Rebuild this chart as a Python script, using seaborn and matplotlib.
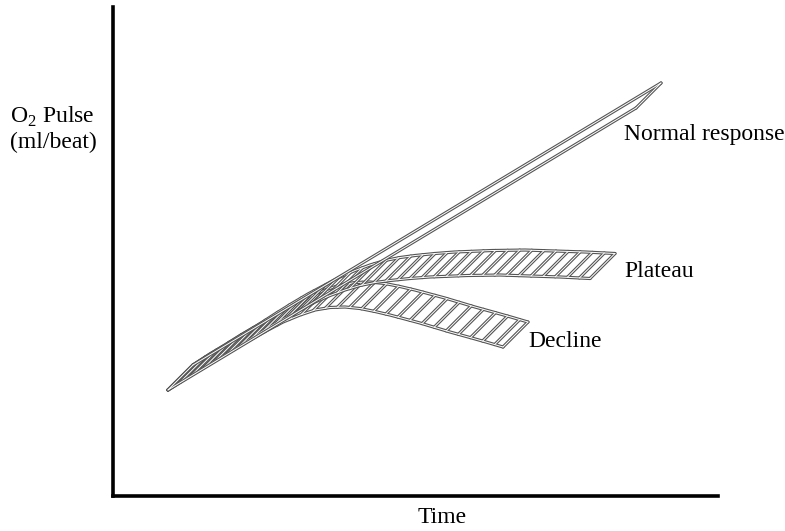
import numpy as np
import pandas as pd
import matplotlib
matplotlib.use("Agg")
import matplotlib.pyplot as plt
import seaborn as sns

# ---- data (time 0-100, O2 pulse 0-100, front edge of each ribbon) ----
normal_t = [9.09, 86.45]
normal_y = [21.68, 79.35]

plateau_t = [9.09, 11.90, 14.38, 17.02, 19.83, 22.64, 25.29, 28.10, 30.91, 33.39, 35.87,
             38.35, 40.83, 43.31, 45.79, 49.09, 52.40, 58.51, 63.97, 68.93, 73.88, 78.84]
plateau_y = [21.68, 23.93, 25.77, 27.81, 29.86, 32.11, 34.15, 36.20, 38.04, 39.67, 41.00,
             42.13, 43.05, 43.66, 44.07, 44.48, 44.79, 45.09, 45.19, 44.99, 44.79, 44.48]

decline_t = [9.09, 11.90, 14.38, 17.02, 19.83, 22.64, 25.29, 28.10, 30.91, 33.39, 35.87,
             38.35, 40.83, 43.31, 45.79, 48.26, 50.74, 53.22, 55.70, 59.01, 61.65, 64.46]
decline_y = [21.68, 23.93, 25.77, 27.81, 29.86, 31.90, 33.74, 35.58, 37.01, 38.04, 38.55,
             38.65, 38.34, 37.73, 37.01, 36.20, 35.38, 34.46, 33.54, 32.41, 31.49, 30.47]

labels = ["Normal response", "Plateau", "Decline"]

# depth offset of the ribbon's back edge (pseudo-3D)
DT, DY = 4.13, 5.11
HATCH_STEP = 2.0

sns.set_style("white")
plt.rcParams["font.family"] = ["Liberation Serif", "DejaVu Serif"]
plt.rcParams["mathtext.fontset"] = "custom"
plt.rcParams["mathtext.rm"] = "Liberation Serif"
plt.rcParams["text.color"] = "black"

fig = plt.figure(figsize=(7.85, 5.31), dpi=100)
ax = fig.add_axes([113 / 785, 35 / 531, 605 / 785, 489 / 531])
ax.set_xlim(0, 100)
ax.set_ylim(0, 100)


def ribbon_segments(t, y, hatch, name):
    t = np.asarray(t, float)
    y = np.asarray(y, float)
    rows = []
    for i in range(len(t)):
        rows.append((f"{name}_front", i, t[i], y[i]))
        rows.append((f"{name}_back", i, t[i] + DT, y[i] + DY))
    rows.append((f"{name}_cap0", 0, t[0], y[0]))
    rows.append((f"{name}_cap0", 1, t[0] + DT, y[0] + DY))
    rows.append((f"{name}_cap1", 0, t[-1], y[-1]))
    rows.append((f"{name}_cap1", 1, t[-1] + DT, y[-1] + DY))
    if hatch:
        ht = np.arange(t[0] + HATCH_STEP, t[-1], HATCH_STEP)
        hy = np.interp(ht, t, y)
        for k, (a, b) in enumerate(zip(ht, hy)):
            rows.append((f"{name}_h{k}", 0, a, b))
            rows.append((f"{name}_h{k}", 1, a + DT, b + DY))
    return pd.DataFrame(rows, columns=["seg", "order", "t", "y"])


def draw_tube(df):
    df = df.sort_values(["seg", "order"])
    sns.lineplot(data=df, x="t", y="y", units="seg", estimator=None, sort=False,
                 color="#555555", lw=2.3, ax=ax, legend=False)
    sns.lineplot(data=df, x="t", y="y", units="seg", estimator=None, sort=False,
                 color="white", lw=0.7, ax=ax, legend=False)


draw_tube(ribbon_segments(decline_t, decline_y, True, "dec"))
draw_tube(ribbon_segments(plateau_t, plateau_y, True, "pla"))
draw_tube(ribbon_segments(normal_t, normal_y, False, "nor"))

ax.set_xlabel("")
ax.set_ylabel("")
ax.set_xticks([])
ax.set_yticks([])
for s in ["top", "right"]:
    ax.spines[s].set_visible(False)
for s in ["left", "bottom"]:
    ax.spines[s].set_linewidth(2.6)
    ax.spines[s].set_color("black")

fs = 17
fig.text(624 / 785, 1 - 140 / 531, labels[0], fontsize=fs, va="baseline", ha="left")
fig.text(624 / 785, 1 - 277 / 531, labels[1], fontsize=fs, va="baseline", ha="left")
fig.text(528 / 785, 1 - 347 / 531, labels[2], fontsize=fs, va="baseline", ha="left")
fig.text(10 / 785, 1 - 123 / 531, r"O$_\mathregular{2}$ Pulse", fontsize=fs, va="baseline", ha="left")
fig.text(10 / 785, 1 - 148 / 531, "(ml/beat)", fontsize=fs, va="baseline", ha="left")
fig.text(442 / 785, 1 - 523 / 531, "Time", fontsize=fs, va="baseline", ha="center")

fig.savefig("out.png", dpi=100)
